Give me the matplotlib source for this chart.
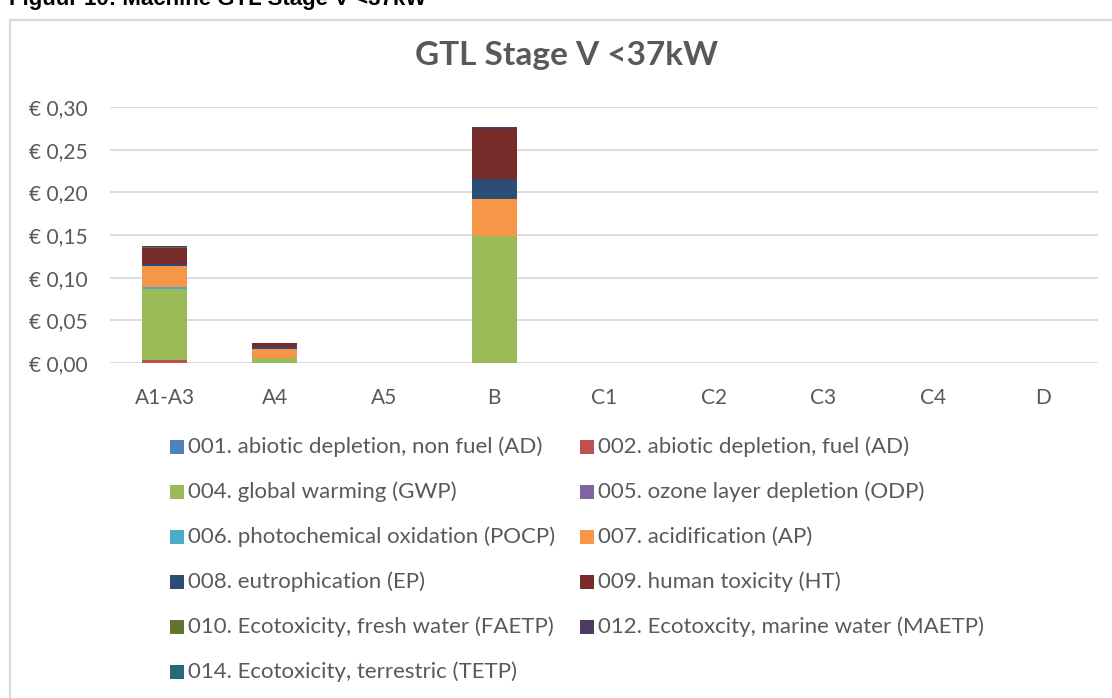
import matplotlib
matplotlib.use("Agg")
import matplotlib.pyplot as plt
import numpy as np
from matplotlib.patches import Rectangle
from matplotlib.ticker import FuncFormatter

# data
categories = ["A1-A3", "A4", "A5", "B", "C1", "C2", "C3", "C4", "D"]

labels = [
    "001. abiotic depletion, non fuel (AD)",
    "002. abiotic depletion, fuel (AD)",
    "004. global warming (GWP)",
    "005. ozone layer depletion (ODP)",
    "006. photochemical oxidation (POCP)",
    "007. acidification (AP)",
    "008. eutrophication (EP)",
    "009. human toxicity (HT)",
    "010. Ecotoxicity, fresh water (FAETP)",
    "012. Ecotoxcity, marine water (MAETP)",
    "014. Ecotoxicity, terrestric (TETP)",
]

ad_non_fuel = [0.0001, 0.0000, 0, 0.0001, 0, 0, 0, 0, 0]
ad_fuel = [0.0035, 0.0003, 0, 0.0003, 0, 0, 0, 0, 0]
gwp = [0.0830, 0.0052, 0, 0.1480, 0, 0, 0, 0, 0]
odp = [0.0000, 0.0000, 0, 0.0000, 0, 0, 0, 0, 0]
pocp = [0.0030, 0.0003, 0, 0.0005, 0, 0, 0, 0, 0]
ap = [0.0240, 0.0105, 0, 0.0434, 0, 0, 0, 0, 0]
ep = [0.0020, 0.0020, 0, 0.0238, 0, 0, 0, 0, 0]
ht = [0.0195, 0.0050, 0, 0.0580, 0, 0, 0, 0, 0]
faetp = [0.0003, 0.0001, 0, 0.0003, 0, 0, 0, 0, 0]
maetp = [0.0015, 0.0005, 0, 0.0020, 0, 0, 0, 0, 0]
tetp = [0.0003, 0.0001, 0, 0.0003, 0, 0, 0, 0, 0]

series = [ad_non_fuel, ad_fuel, gwp, odp, pocp, ap, ep, ht, faetp, maetp, tetp]
colors = ["#4F81BD", "#C0504D", "#9BBB59", "#8064A2", "#4BACC6", "#F79646",
          "#2C4D75", "#772C2A", "#5F7530", "#4D3B62", "#276A7C"]

text_color = "#595959"
grid_color = "#D9D9D9"
font = "Lato"
W, H = 1112, 698

fig = plt.figure(figsize=(W / 100, H / 100), dpi=100)

# chart border (runs off the right and bottom edges)
fig.patches.append(Rectangle((10 / W, -0.05), 1.2, 1.05 - 20 / H, transform=fig.transFigure,
                             fill=False, edgecolor=grid_color, linewidth=1.6))

# caption above the chart, cut off by the top edge as in the source
fig.text(9 / W, 1 - 5 / H, "Figuur 10: Machine GTL Stage V <37kW", fontsize=16,
         fontweight="bold", family="Liberation Sans", color="black", va="baseline", ha="left")

ax = fig.add_axes([110 / W, 1 - 363 / H, (1098 - 110) / W, (363 - 107) / H])

x = np.arange(len(categories))
bottom = np.zeros(len(categories))
for vals, col, lab in zip(series, colors, labels):
    vals = np.array(vals)
    ax.bar(x, vals, width=0.41, bottom=bottom, color=col, label=lab, linewidth=0, zorder=3)
    bottom += vals

ax.set_xlim(-0.5, len(categories) - 0.5)
ax.set_ylim(0, 0.30)
ax.set_yticks(np.arange(0, 0.301, 0.05))
ax.yaxis.set_major_formatter(FuncFormatter(lambda v, p: "€ " + f"{v:.2f}".replace(".", ",")))
ax.set_xticks(x)
ax.set_xticklabels(categories)
ax.grid(axis="y", color=grid_color, linewidth=1.3, zorder=0)
for s in ax.spines.values():
    s.set_visible(False)
ax.tick_params(length=0, labelsize=15, labelcolor=text_color)
ax.tick_params(axis="y", pad=16)
ax.tick_params(axis="x", pad=18)
for t in ax.get_xticklabels() + ax.get_yticklabels():
    t.set_family(font)

fig.text(567 / W, 1 - 55 / H, "GTL Stage V <37kW", fontsize=24, fontweight="bold",
         family=font, color=text_color, ha="center", va="center")

# legend, two columns, row-major
col_x = [170, 580]
row_y0, row_dy = 447, 45
sq = 14
for i, (lab, col) in enumerate(zip(labels, colors)):
    r, c = divmod(i, 2)
    xm = col_x[c]
    ym = row_y0 + r * row_dy
    fig.patches.append(Rectangle((xm / W, 1 - (ym + sq / 2) / H), sq / W, sq / H,
                                 transform=fig.transFigure, facecolor=col, edgecolor="none"))
    fig.text((xm + sq + 4) / W, 1 - ym / H, lab, fontsize=16, family=font,
             color=text_color, ha="left", va="center")

fig.savefig("out.png", dpi=100)
